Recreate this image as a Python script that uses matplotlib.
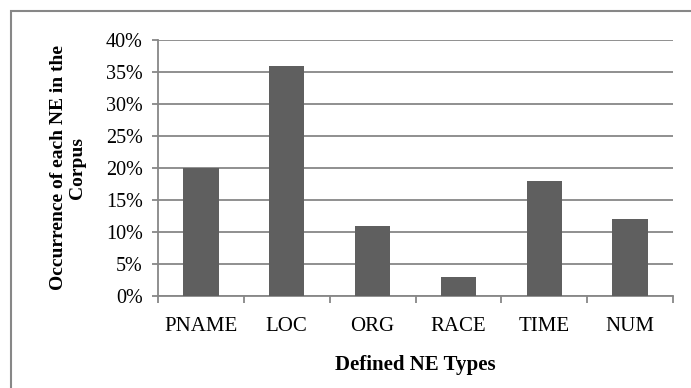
import matplotlib
matplotlib.use("Agg")
import matplotlib.pyplot as plt
from matplotlib.patches import Rectangle
from matplotlib.ticker import FixedLocator, PercentFormatter

# Datos
tipos = ["PNAME", "LOC", "ORG", "RACE", "TIME", "NUM"]
ocurrencia = [20, 36, 11, 3, 18, 12]
ticks_y = [0, 5, 10, 15, 20, 25, 30, 35, 40]

plt.rcParams["font.family"] = ["Liberation Serif", "DejaVu Serif"]

gris = "#878787"
color_barra = "#5f5f5f"

fig = plt.figure(figsize=(6.91, 3.88), dpi=100)
ax = fig.add_axes([158 / 691, 1 - 296 / 388, 515 / 691, 256 / 388])

x = list(range(len(tipos)))
ax.bar(x, ocurrencia, width=0.41, color=color_barra, zorder=3)

ax.set_xlim(-0.5, len(tipos) - 0.5)
ax.set_ylim(0, 40)
ax.set_yticks(ticks_y)
ax.yaxis.set_major_formatter(PercentFormatter(decimals=0))
ax.grid(axis="y", color=gris, linewidth=1.3, zorder=0)

# ticks del eje x en los limites de categoria, etiquetas en el centro
ax.set_xticks(x)
ax.set_xticklabels(tipos)
ax.xaxis.set_minor_locator(FixedLocator([i - 0.5 for i in range(len(tipos) + 1)]))
ax.tick_params(axis="x", which="major", length=0, pad=15, labelsize=15)
ax.tick_params(axis="x", which="minor", length=5, width=1.3, color=gris)
ax.tick_params(axis="y", length=4, width=1.3, color=gris, pad=7, labelsize=14.5)

for lado in ["top", "right"]:
    ax.spines[lado].set_visible(False)
for lado in ["left", "bottom"]:
    ax.spines[lado].set_color(gris)
    ax.spines[lado].set_linewidth(1.3)

ax.set_xlabel("Defined NE Types", fontsize=15, fontweight="bold")
ax.xaxis.set_label_coords(0.5, -0.23)
ax.set_ylabel("Occurrence of each NE in the\nCorpus", fontsize=14,
              fontweight="bold", linespacing=1.15)
ax.yaxis.set_label_coords(-0.14, 0.5)

# borde exterior del area del grafico
fig.patches.append(Rectangle((10.5 / 691, -0.1), 1.0, 1.1 - 11 / 388,
                             transform=fig.transFigure, fill=False,
                             edgecolor=gris, linewidth=1.5))

fig.savefig("out.png", dpi=100)
